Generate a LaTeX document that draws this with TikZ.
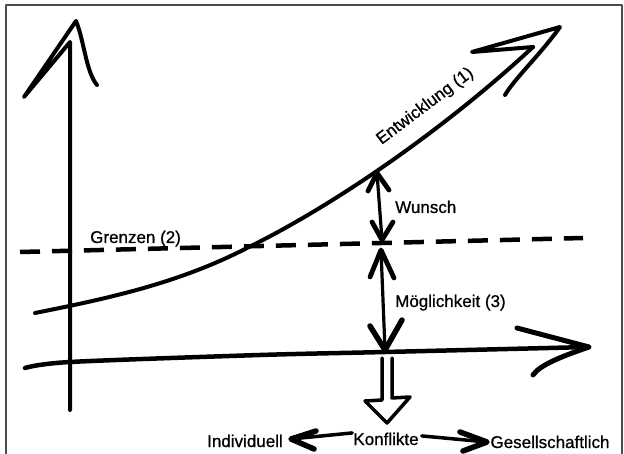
\documentclass[tikz,border=0pt]{standalone}
\usepackage{fontspec}
\setmainfont{Liberation Sans}[FakeBold=0.8]
\begin{document}
\begin{tikzpicture}[x=1bp,y=-1bp,line cap=round,line join=round,
  stroke/.style={line width=4bp},
  thinstroke/.style={line width=3.2bp},
  headstroke/.style={line width=4.8bp},
  lbl/.style={font=\fontsize{17bp}{20bp}\selectfont,inner sep=0pt}]
\useasboundingbox (0,0) rectangle (624,454);
% frame
\draw[gray!60!black,line width=1.5bp] (6,454) -- (6,5) -- (622,5) -- (622,454);

% y axis
\coordinate (ybot) at (70,410);
\coordinate (ytop) at (70,42);
\coordinate (ytip) at (76,21);
\coordinate (ybl) at (24,97);
\coordinate (ybr) at (97,85);
\draw[stroke] (ybot) -- (ytop) -- (ybl) -- (ytip) .. controls (84,40) and (86,72) .. (ybr);

% x axis
\coordinate (xl) at (25,368);
\coordinate (xtip) at (589,347);
\coordinate (xb1) at (517,328);
\coordinate (xb2) at (533,375);
\draw[line width=4.5bp] plot[smooth] coordinates {(xl) (70,362) (260,355) (385,352) (xtip)};
\draw[line width=5bp] (xb1) -- (xtip) .. controls (560,357) and (540,365) .. (xb2);

% dashed limit line
\coordinate (gl) at (20,252);
\coordinate (gr) at (583,238);
\draw[line width=4.5bp,line cap=butt,dash pattern=on 20bp off 12bp] (gl) -- (gr);

% development curve
\coordinate (cs) at (35,313);
\coordinate (cm) at (247,248);
\coordinate (ce) at (533,47);
\coordinate (ctip) at (560,27);
\coordinate (cz) at (472,52);
\coordinate (cb) at (505,95);
\draw[stroke] (cs) .. controls (105,299) and (177,284) .. (cm)
  .. controls (337,204) and (448,126) .. (ce);
\draw[stroke] (ce) -- (cz) -- (ctip) .. controls (540,55) and (515,78) .. (cb);

% labels
\node[lbl,anchor=base,rotate=37] (entw) at (428,110) {Entwicklung (1)};
\node[lbl,anchor=base west] (grenz) at (90,243) {Grenzen (2)};
\node[lbl,anchor=base west] (wun) at (395,213) {Wunsch};
\node[lbl,anchor=base west] (moeg) at (395,307) {Möglichkeit (3)};

% Wunsch arrow
\coordinate (w1) at (377,173);
\coordinate (w2) at (382,240);
\draw[thinstroke] (w1) -- (w2);
\draw[headstroke] (368,191) -- (w1) -- (389,190);
\draw[headstroke] (372,222) -- (w2) -- (393,222);

% Moeglichkeit arrow
\coordinate (m1) at (381,250);
\coordinate (m2) at (385,350);
\draw[thinstroke] (m1) -- (m2);
\draw[headstroke] (370,277) -- (m1) -- (394,278);
\draw[line width=5.5bp] (370,326) -- (m2) -- (402,320);

% hollow arrow
\draw[line width=3.5bp,fill=white] (382,358) -- (382,400) -- (365,401) -- (387,423) -- (410,397) -- (392,398) -- (392,358);

% bottom labels
\node[lbl,anchor=base] (ind) at (245,447) {Individuell};
\node[lbl,anchor=base] (konf) at (386,445) {Konflikte};
\node[lbl,anchor=base] (ges) at (550,448) {Gesellschaftlich};

\coordinate (li) at (291,439);
\coordinate (ri) at (487,442);
\draw[line width=3.5bp] (konf.west) ++(-1,-6) -- (li);
\draw[line width=5.5bp] (316,431) -- (li) -- (314,449);
\draw[line width=3.5bp] (konf.east) ++(3,-3) -- (ri);
\draw[line width=5.5bp] (460,432) -- (ri) -- (463,451);
\end{tikzpicture}
\end{document}
